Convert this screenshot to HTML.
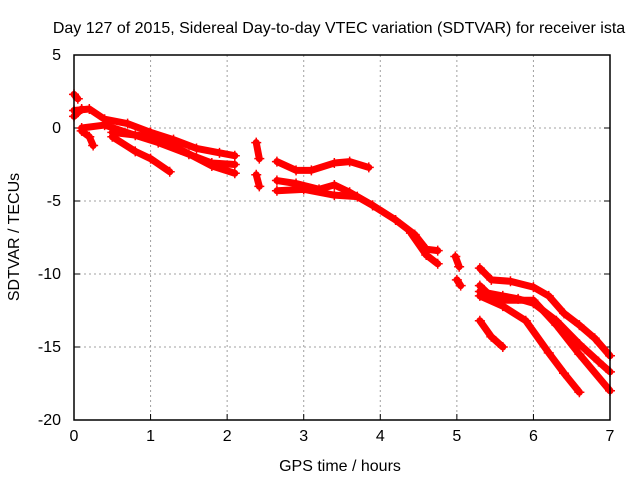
<!DOCTYPE html>
<html><head><meta charset="utf-8"><style>
body{margin:0;background:#fff}
svg text{font-family:"Liberation Sans",sans-serif;font-size:16px;fill:#000}
</style></head><body>
<svg id="c" width="640" height="480" xmlns="http://www.w3.org/2000/svg"></svg>
<script>
const xTicks=[0,1,2,3,4,5,6,7];
const yTicks=[5,0,-5,-10,-15,-20];
const trackA=[[0,1.2],[0.2,1.3],[0.4,0.6],[0.7,0.3],[1.0,-0.3],[1.3,-0.8],[1.6,-1.4],[1.9,-1.7],[2.1,-1.9]];
const trackB=[[0.1,0],[0.4,0.2],[0.8,-0.5],[1.1,-1],[1.5,-1.8],[1.8,-2.4],[2.1,-2.5]];
const trackC=[[0.5,-0.3],[1.0,-0.6],[1.4,-1.5],[1.8,-2.6],[2.1,-3.1]];
const trackD=[[0.5,-0.6],[0.8,-1.6],[1.0,-2.1],[1.25,-3.0]];
const trackE=[[0.1,-0.2],[0.2,-0.6],[0.25,-1.2]];
const trackF=[[0,2.3],[0.05,2.0]];
const trackG=[[0,0.8],[0.1,1.3]];
const trackH=[[2.38,-1.0],[2.42,-2.1]];
const trackI=[[2.38,-3.2],[2.42,-4.0]];
const trackJ=[[2.65,-2.3],[2.9,-2.9],[3.1,-2.9],[3.4,-2.4],[3.6,-2.3],[3.85,-2.7]];
const trackK=[[2.65,-3.6],[2.9,-3.8],[3.2,-4.2],[3.4,-3.9],[3.6,-4.4],[3.9,-5.3],[4.2,-6.3],[4.45,-7.3],[4.6,-8.3],[4.75,-8.4]];
const trackL=[[2.65,-4.3],[3.0,-4.2],[3.4,-4.6],[3.7,-4.7],[3.9,-5.3]];
const trackM=[[4.4,-7.2],[4.6,-8.7],[4.75,-9.3]];
const trackN=[[4.98,-8.8],[5.03,-9.5]];
const trackO=[[5.0,-10.4],[5.05,-10.8]];
const trackP=[[5.3,-9.6],[5.45,-10.4],[5.7,-10.5],[6.0,-10.9],[6.2,-11.5],[6.4,-12.7],[6.6,-13.5],[6.8,-14.4],[7.0,-15.6]];
const trackQ=[[5.3,-11.2],[5.6,-11.5],[5.8,-11.7],[6.0,-12.0],[6.3,-13.2],[6.6,-14.8],[6.85,-16.0],[7.0,-16.7]];
const trackR=[[5.3,-10.8],[5.5,-11.8],[6.0,-11.8],[6.3,-13.5],[6.6,-15.5],[7.0,-18.0]];
const trackS=[[5.3,-11.5],[5.6,-12.2],[5.9,-13.2],[6.2,-15.4],[6.4,-16.8],[6.6,-18.1]];
const trackT=[[5.3,-13.2],[5.45,-14.3],[5.6,-15.0]];
const tracks=[trackA,trackB,trackC,trackD,trackE,trackF,trackG,trackH,trackI,trackJ,trackK,trackL,trackM,trackN,trackO,trackP,trackQ,trackR,trackS,trackT];

const L=74,R=610,T=55,B=420;
const xs=h=>L+h/7*(R-L);
const ys=v=>T+(5-v)/25*(B-T);
const svg=document.getElementById('c');
const NS='http://www.w3.org/2000/svg';
function mk(tag,at){const e=document.createElementNS(NS,tag);for(const k in at)e.setAttribute(k,at[k]);svg.appendChild(e);return e;}
xTicks.forEach(t=>{
  if(t>0&&t<7){const g=mk('line',{x1:xs(t),x2:xs(t),y1:T,y2:B,stroke:'#a0a0a0','stroke-dasharray':'2,3'});
  
  }
  const tk=mk('line',{x1:xs(t),x2:xs(t),y1:B,y2:B-6,stroke:'#000'});
  
  
  const tx=mk('text',{x:xs(t),y:B+21,'text-anchor':'middle'});tx.textContent=t;
  
  
});
yTicks.forEach(t=>{
  if(t<5&&t>-20){const g=mk('line',{x1:L,x2:R,y1:ys(t),y2:ys(t),stroke:'#a0a0a0','stroke-dasharray':'2,3'});
  
  }
  const tk=mk('line',{x1:L,x2:L+6,y1:ys(t),y2:ys(t),stroke:'#000'});
  
  
  const tk2=mk('line',{x1:R,x2:R-6,y1:ys(t),y2:ys(t),stroke:'#000'});
  
  
  const tx=mk('text',{x:L-13,y:ys(t)+5,'text-anchor':'end'});tx.textContent=t;
  
  
});
tracks.forEach(tr=>{
  const p=mk('polyline',{points:tr.map(d=>xs(d[0])+','+ys(d[1])).join(' '),fill:'none',stroke:'#f00','stroke-width':7,'stroke-linejoin':'round','stroke-linecap':'round'});
  
  
  tr.forEach(d=>{
    const m=mk('path',{d:`M${xs(d[0])-5},${ys(d[1])}h10M${xs(d[0])},${ys(d[1])-5}v10`,stroke:'#f00','stroke-width':1.5});
    
    
  });
});
const fr=mk('rect',{x:L,y:T,width:R-L,height:B-T,fill:'none',stroke:'#000','stroke-width':1.5});


const ti=mk('text',{x:339,y:33,'text-anchor':'middle'});ti.textContent='Day 127 of 2015, Sidereal Day-to-day VTEC variation (SDTVAR) for receiver ista';


const xl=mk('text',{x:340,y:471,'text-anchor':'middle'});xl.textContent='GPS time / hours';


const yl=mk('text',{x:19,y:237,'text-anchor':'middle',transform:'rotate(-90 19 237)'});yl.textContent='SDTVAR / TECUs';


</script>
</body></html>
